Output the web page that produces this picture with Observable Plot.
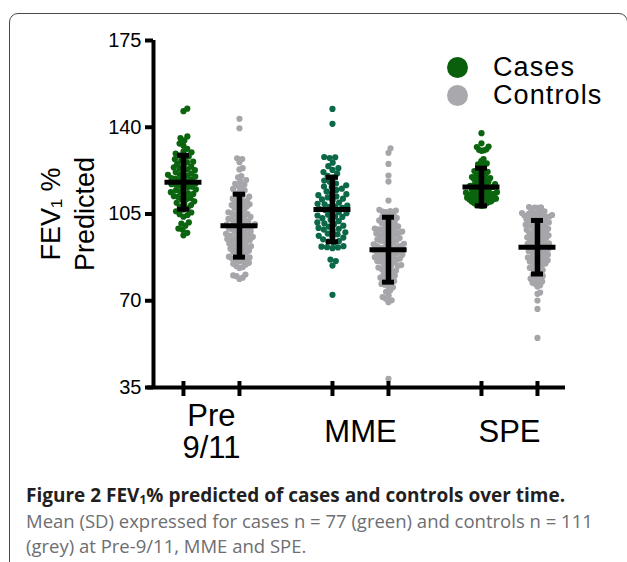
<!DOCTYPE html>
<html>
<head>
<meta charset="utf-8">
<script src="https://cdn.jsdelivr.net/npm/d3@7"></script>
<script src="https://cdn.jsdelivr.net/npm/@observablehq/plot@0.6"></script>
<style>
  body { margin: 0; background: #fff; }
  #wrap { position: relative; width: 627px; height: 562px; overflow: hidden; font-family: "Liberation Sans", Arial, sans-serif; }
  #frame { position: absolute; left: 9px; top: 13px; width: 619px; height: 600px; border: 1.5px solid #4a4a4a; border-radius: 9px; box-sizing: border-box; }
  #chart { position: absolute; left: 0; top: 0; }
  .leg { position: absolute; left: 447px; height: 28px; line-height: 28px; display: flex; align-items: center; font-size: 27px; letter-spacing: 1.1px; color: #000; white-space: nowrap; }
  .leg span.sw { display: inline-block; width: 21px; height: 21px; border-radius: 50%; margin-right: 25px; }
  #caption { position: absolute; left: 26px; top: 483px; width: 600px; font-family: "Open Sans", sans-serif; font-size: 18.5px; line-height: 25px; white-space: nowrap; }
  #caption .t { font-weight: bold; color: #231f20; font-size: 19px; }
  #caption .d { color: #6d6e71; }
  #caption sub { font-size: 12px; vertical-align: -2px; line-height: 1; }
</style>
</head>
<body>
<div id="wrap">
  <div id="frame"></div>
  <div id="chart"></div>
  <div class="leg" style="top:53px"><span class="sw" style="background:#0a5f0c"></span>Cases</div>
  <div class="leg" style="top:81px"><span class="sw" style="background:#a9a9ad"></span>Controls</div>
  <div id="caption">
    <div class="t">Figure 2 FEV<sub>1</sub>% predicted of cases and controls over time.</div>
    <div class="d">Mean (SD) expressed for cases n = 77 (green) and controls n = 111</div>
    <div class="d">(grey) at Pre-9/11, MME and SPE.</div>
  </div>
</div>
<script>
// ---------------- data ----------------
const timepoints = ["Pre\n9/11", "MME", "SPE"];
const groups = ["Cases", "Controls"];
const yTicks = [35, 70, 105, 140, 175];

const preCases = [118.2,124.6,109.5,131.3,121.0,113.8,127.9,104.9,147.5,116.4,
  122.7,110.8,119.9,135.6,107.3,125.8,114.6,101.6,120.5,129.4,
  112.2,117.0,106.1,123.4,99.1,115.3,128.6,111.4,119.2,133.4,
  108.6,126.5,113.1,121.8,97.4,116.9,124.1,105.6,130.2,118.7,
  110.1,146.5,122.3,114.0,127.1,103.9,120.1,132.5,112.8,117.6,
  108.0,125.2,100.3,115.9,123.0,111.0,119.5,134.7,106.8,126.1,
  113.4,121.3,96.4,116.0,128.2,109.0,118.9,136.3,104.6,123.8,
  114.9,120.8,101.1,117.3,129.9,111.9,98.6];

const preControls = [143.4,139.6,127.5,127.2,125.9,123.5,123.0,80.2,80.6,79.9,78.8,79.3,
  119.8,104.2,91.3,112.6,97.5,86.4,108.9,100.7,94.1,116.3,
  88.2,102.9,110.4,95.8,84.6,106.5,99.1,118.7,92.7,101.6,
  113.9,87.5,97.0,105.3,90.2,109.7,83.2,100.0,115.1,93.6,
  107.4,96.3,85.9,103.5,111.8,98.4,89.3,117.2,94.9,102.1,
  106.0,91.9,99.8,120.3,87.0,104.8,96.7,112.0,93.1,108.2,
  84.0,101.0,97.9,114.5,90.6,105.7,88.8,99.5,110.9,95.2,
  103.0,86.9,107.9,92.3,116.8,98.9,85.3,102.5,94.4,109.2,
  89.7,100.3,113.3,96.0,83.6,104.5,91.0,106.9,97.2,118.1,
  93.9,101.9,88.5,111.2,95.5,86.1,103.8,99.3,108.6,90.9,
  115.7,94.6,105.0,87.8,100.9,92.0,109.9,97.7,84.9];

const mmeCases = [147.4,141.4,127.9,127.6,128.0,91.5,91.8,91.2,92.0,91.6,86.6,86.0,84.2,72.4,
  108.4,115.2,97.6,121.9,103.3,111.7,94.8,118.5,106.0,100.9,
  124.3,109.6,96.2,113.4,104.7,119.8,99.4,107.5,116.6,93.4,
  110.5,102.1,122.8,105.3,98.7,114.1,108.9,95.5,117.3,101.6,
  112.6,125.7,104.0,107.0,99.9,120.4,94.1,110.9,103.8,115.9,
  97.1,106.6,113.0,100.3,123.5,109.1,96.8,118.0,102.7,111.2,
  105.7,93.9,116.1,108.0,98.2,121.3,104.4,112.1,95.9,107.9,
  101.2,114.7,99.0];

const mmeControls = [131.5,129.7,125.2,120.5,118.1,110.4,72.1,71.5,70.2,69.4,70.8,38.5,
  106.4,106.0,106.7,105.8,106.2,
  98.3,84.7,91.6,102.4,77.9,94.0,88.1,100.6,80.5,96.2,
  86.3,103.7,92.8,75.4,99.1,89.5,82.2,104.9,95.3,87.0,
  97.6,79.3,101.2,90.4,85.5,93.3,74.1,98.8,88.9,103.0,
  83.4,96.9,91.1,78.6,100.0,86.8,94.7,81.0,102.0,89.9,
  76.5,97.1,92.2,84.1,99.7,87.6,95.8,80.1,104.3,90.9,
  85.0,93.7,77.2,101.7,88.4,96.5,82.8,98.0,91.9,73.6,
  94.4,86.0,100.3,89.1,79.8,97.9,83.9,92.5,75.9,102.8,
  87.3,95.0,81.6,99.4,90.1,85.9,93.0,78.2,103.4,88.6,
  96.0,84.4,91.4,76.8,98.6,89.4,82.5,94.2,87.9,92.0,
  83.0,90.6,97.3,86.5];

const speCases = [137.6,133.5,132.2,132.0,130.9,130.7,131.1,130.5,
  108.5,114.2,110.3,120.6,112.9,117.1,112.0,124.9,109.4,115.5,
  111.2,108.4,122.3,113.6,110.8,118.4,116.1,126.3,112.7,116.0,
  108.6,119.5,111.6,114.9,109.8,121.8,113.1,118.7,117.8,110.1,
  125.4,112.4,115.9,120.9,123.2,111.0,116.7,114.4,119.0,113.8,
  110.5,121.1,114.6,109.2,118.0,112.2,125.0,108.3,115.1,111.4,
  120.1,113.3,110.0,116.4,122.0,122.7,114.0,117.0,117.5,111.8,
  124.1,112.9,119.9,110.6,115.7,119.2,113.5,127.2,111.1];

const speControls = [72.8,73.3,70.1,66.7,55.0,
  107.6,104.6,107.8,107.5,107.7,102.7,
  96.4,83.7,101.8,90.2,78.9,105.1,93.5,87.4,99.0,81.2,
  103.6,95.1,88.8,76.3,100.7,92.0,85.5,104.1,97.3,80.4,
  94.6,102.5,89.7,77.8,98.2,86.1,104.4,91.3,83.0,100.0,
  96.8,79.6,105.9,93.0,88.0,101.1,84.6,97.9,75.7,92.6,
  103.0,89.2,99.6,82.4,95.6,105.3,86.9,91.8,78.2,102.0,
  94.2,85.0,100.4,90.6,104.9,81.8,97.6,87.8,93.9,76.9,
  105.4,96.1,84.1,99.3,89.9,102.9,80.0,94.9,91.0,106.1,
  86.5,98.6,83.3,103.3,92.3,77.3,100.9,88.4,95.3,104.0,
  90.0,97.0,82.0,101.4,85.8,93.2,79.2,99.8,87.1,104.7,
  98.0,91.6,86.3,101.6,95.9,88.6,103.8,84.8,92.9,106.6];

const caseMeans = [117.8, 106.8, 115.9];
const caseSDs = [10.9, 13.0, 7.6];
const controlMeans = [100.3, 90.6, 91.6];
const controlSDs = [12.7, 13.1, 10.8];

// ---------------- layout / style ----------------
const W = 627, H = 470, mL = 153, mR = 62, mT = 40, mB = 83;
const xDomain = [-0.389, 2.376], yDomain = [35, 175];
const pxPerX = (W - mL - mR) / (xDomain[1] - xDomain[0]);
const pxPerY = (H - mT - mB) / (yDomain[1] - yDomain[0]);
const pairHalf = 28 / pxPerX;         // half the distance between cases and controls
const R = 3.1;                        // dot radius (px)
const maxHalfWidth = 15.5;            // px, swarm half width limit
const caseColors = ["#0b650f", "#0c6947", "#0b650f"];
const controlColor = "#a6a6aa";

const series = [
  [preCases, preControls],
  [mmeCases, mmeControls],
  [speCases, speControls]
];

// beeswarm placement in pixel space, then squeezed to a maximum half width
function swarm(values) {
  const d = 2 * R * 0.9;
  const pts = values.map(v => ({v, py: v * pxPerY})).sort((a, b) => a.v - b.v);
  const placed = [];
  for (const p of pts) {
    const cands = [0];
    for (const q of placed) {
      const dy = p.py - q.py;
      if (Math.abs(dy) < d) {
        const dx = Math.sqrt(d * d - dy * dy);
        cands.push(q.px + dx, q.px - dx);
      }
    }
    cands.sort((a, b) => Math.abs(a) - Math.abs(b));
    for (const c of cands) {
      if (placed.every(q => (q.px - c) ** 2 + (q.py - p.py) ** 2 >= d * d - 1e-6)) { p.px = c; break; }
    }
    placed.push(p);
  }
  const ext = d3.max(placed, p => Math.abs(p.px)) || 1;
  const k = Math.min(1, maxHalfWidth / ext);
  placed.forEach(p => p.px *= k);
  return placed;
}

const dots = [];
const stats = [];
timepoints.forEach((t, i) => {
  groups.forEach((g, j) => {
    const center = i + (j === 0 ? -pairHalf : pairHalf);
    const color = j === 0 ? caseColors[i] : controlColor;
    for (const p of swarm(series[i][j])) dots.push({x: center + p.px / pxPerX, y: p.v, color});
    stats.push({x: center, mean: j === 0 ? caseMeans[i] : controlMeans[i], sd: j === 0 ? caseSDs[i] : controlSDs[i]});
  });
});
const tickXs = stats.map(s => s.x);
const catRows = timepoints.map((t, i) => ({x: i, label: t}));

const plot = Plot.plot({
  width: W, height: H,
  marginLeft: mL, marginRight: mR, marginTop: mT, marginBottom: mB,
  x: {domain: xDomain, axis: null},
  y: {domain: yDomain},
  color: {type: "identity"},
  style: {fontFamily: '"Liberation Sans", Arial, sans-serif', color: "#000", background: "transparent", overflow: "visible"},
  marks: [
    Plot.dot(dots, {x: "x", y: "y", r: R, fill: "color", stroke: null}),
    Plot.ruleX(stats, {x: "x", y1: d => d.mean - d.sd, y2: d => d.mean + d.sd, stroke: "#000", strokeWidth: 5.5}),
    Plot.ruleY(stats, {y: "mean", x1: d => d.x - 18.5 / pxPerX, x2: d => d.x + 18.5 / pxPerX, stroke: "#000", strokeWidth: 5}),
    Plot.ruleY(stats, {y: d => d.mean + d.sd, x1: d => d.x - 6 / pxPerX, x2: d => d.x + 6 / pxPerX, stroke: "#000", strokeWidth: 5}),
    Plot.ruleY(stats, {y: d => d.mean - d.sd, x1: d => d.x - 6 / pxPerX, x2: d => d.x + 6 / pxPerX, stroke: "#000", strokeWidth: 5}),
    Plot.axisY({ticks: yTicks, tickSize: 8, tickPadding: 4, strokeWidth: 4, fontSize: 20, label: null}),
    Plot.ruleX([xDomain[0]], {y1: 35, y2: 175, stroke: "#000", strokeWidth: 4}),
    Plot.ruleY([35], {x1: xDomain[0] - 6 / pxPerX, x2: xDomain[1], stroke: "#000", strokeWidth: 4}),
    Plot.ruleX(tickXs, {x: d => d, y1: 35 + 6 / pxPerY, y2: 35 - 9 / pxPerY, stroke: "#000", strokeWidth: 4}),
    Plot.text(catRows, {x: "x", y: 35, text: "label", dy: 44, fontSize: 31, lineHeight: 1.04, lineAnchor: "middle", fill: "#000"}),
    Plot.text(["FEV\u2081 %\nPredicted"], {frameAnchor: "left", dx: -87, rotate: -90, textAnchor: "middle", fontSize: 27, lineHeight: 1.25, lineAnchor: "middle", fill: "#000"})
  ]
});
document.getElementById("chart").appendChild(plot);
</script>
</body>
</html>
